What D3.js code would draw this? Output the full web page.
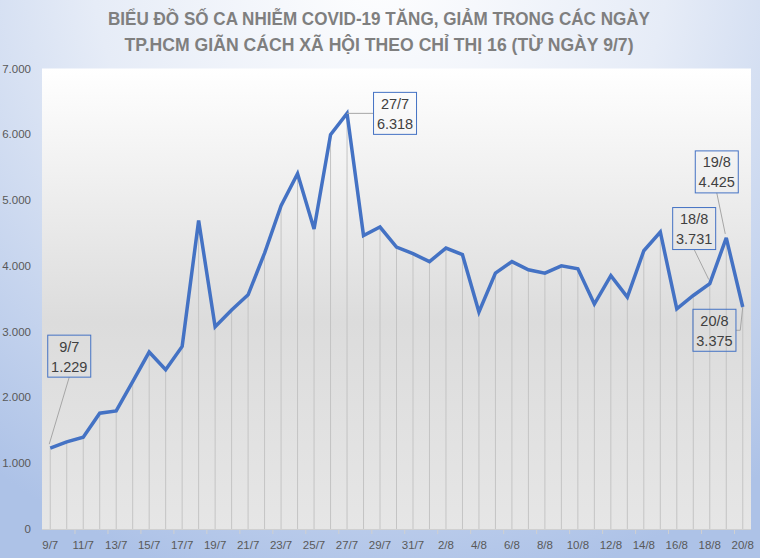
<!DOCTYPE html>
<html><head><meta charset="utf-8">
<script src="https://cdn.jsdelivr.net/npm/d3@7"></script>
<style>html,body{margin:0;padding:0;background:#fff}svg{display:block}</style>
</head><body>
<svg id="c" width="760" height="558"></svg>
<script>
const dates = ["9/7","10/7","11/7","12/7","13/7","14/7","15/7","16/7","17/7","18/7","19/7","20/7","21/7","22/7","23/7","24/7","25/7","26/7","27/7","28/7","29/7","30/7","31/7","1/8","2/8","3/8","4/8","5/8","6/8","7/8","8/8","9/8","10/8","11/8","12/8","13/8","14/8","15/8","16/8","17/8","18/8","19/8","20/8"];
const cases = [1229,1325,1395,1760,1795,2240,2690,2420,2775,4690,3075,3330,3560,4195,4915,5400,4560,5995,6318,4460,4590,4285,4185,4065,4270,4170,3300,3890,4065,3940,3890,4000,3955,3420,3850,3525,4230,4515,3345,3550,3731,4425,3375];
const yTicks = [0,1000,2000,3000,4000,5000,6000,7000];
const xTickLabels = dates.filter((d,i)=>i%2===0);
const titleLines = ["BIỂU ĐỒ SỐ CA NHIỄM COVID-19 TĂNG, GIẢM TRONG CÁC NGÀY","TP.HCM GIÃN CÁCH XÃ HỘI THEO CHỈ THỊ 16 (TỪ NGÀY 9/7)"];
const annotated = ["9/7","27/7","18/8","19/8","20/8"];

const fmt = v => d3.format(",")(v).replace(/,/g,".");
const svg = d3.select("#c");
const W=760,H=558, L=42, R=751, T=68.5, B=529;

const defs = svg.append("defs");
const rg = defs.append("radialGradient").attr("id","bg").attr("gradientUnits","userSpaceOnUse")
  .attr("cx",380).attr("cy",-40).attr("r",640);
rg.append("stop").attr("offset","0%").attr("stop-color","#ffffff");
rg.append("stop").attr("offset","45%").attr("stop-color","#e6ecf7");
rg.append("stop").attr("offset","100%").attr("stop-color","#adc2e7");
const lg = defs.append("linearGradient").attr("id","pa").attr("x1",0).attr("y1",0).attr("x2",0).attr("y2",1);
lg.append("stop").attr("offset","0%").attr("stop-color","#ffffff");
lg.append("stop").attr("offset","55%").attr("stop-color","#dcdcdc");
lg.append("stop").attr("offset","100%").attr("stop-color","#e6e6e6");

svg.append("rect").attr("width",W).attr("height",H).attr("fill","url(#bg)");
svg.append("rect").attr("x",L).attr("y",T).attr("width",R-L).attr("height",B-T).attr("fill","url(#pa)");

const x = d3.scalePoint().domain(dates).range([L,R]).padding(0.5);
const y = d3.scaleLinear().domain([0,7000]).range([B,T]);

// title
const tPos = [{y:25.3,len:542,fs:18},{y:50.5,len:509,fs:17.5}];
svg.selectAll(".title").data(titleLines).join("text")
  .attr("x",379).attr("y",(d,i)=>tPos[i].y).attr("text-anchor","middle")
  .attr("textLength",(d,i)=>tPos[i].len).attr("lengthAdjust","spacingAndGlyphs")
  .attr("font-family","'Liberation Sans Narrow','Liberation Sans',sans-serif").attr("font-weight","bold")
  .attr("font-size",(d,i)=>tPos[i].fs).attr("fill","#7f7f7f").text(d=>d);

// y axis labels
svg.selectAll(".yl").data(yTicks).join("text")
  .attr("x",31).attr("y",d=>y(d)+4).attr("text-anchor","end")
  .attr("font-family","'Liberation Sans',sans-serif").attr("font-size",11.5).attr("fill","#595959")
  .text(d=>fmt(d));

// drop lines
svg.selectAll(".drop").data(dates).join("line")
  .attr("x1",d=>x(d)).attr("x2",d=>x(d)).attr("y1",(d,i)=>y(cases[i])).attr("y2",B)
  .attr("stroke","#c4c4c4").attr("stroke-width",1);

// bottom axis
svg.append("line").attr("x1",L).attr("x2",R).attr("y1",B+0.5).attr("y2",B+0.5).attr("stroke","#d0d0d0");
const st = x.step();
svg.selectAll(".tk").data(d3.range(1,dates.length,2)).join("line")
  .attr("x1",i=>x(dates[i])+st/2).attr("x2",i=>x(dates[i])+st/2).attr("y1",B).attr("y2",B+5)
  .attr("stroke","#d0d0d0");
svg.selectAll(".xl").data(xTickLabels).join("text")
  .attr("x",d=>x(d)).attr("y",549).attr("text-anchor","middle")
  .attr("font-family","'Liberation Sans',sans-serif").attr("font-size",11.5).attr("fill","#595959")
  .text(d=>d);

// line
const line = d3.line().x((d,i)=>x(dates[i])).y(d=>y(d));
svg.append("path").datum(cases).attr("d",line).attr("fill","none")
  .attr("stroke","#4472c4").attr("stroke-width",3.5).attr("stroke-linejoin","miter").attr("stroke-miterlimit",3);

// annotations
const boxOff = {"9/7":[19,-92],"27/7":[48,0],"18/8":[-15.6,-55],"19/8":[-9.5,-66],"20/8":[-28.3,23.3]};
const bw=43,bh=42;
annotated.forEach(d=>{
  const i = dates.indexOf(d);
  const px = x(d), py = y(cases[i]);
  const [dx,dy] = boxOff[d];
  const cx = px+dx, cy = py+dy;
  let pts;
  if (d==="27/7") pts=[[cx-bw/2,cy],[px,py]];
  else if (d==="20/8") pts=[[cx+bw/2,cy],[px-2.5,cy],[px,py]];
  else pts=[[cx,cy+bh/2],[px-1,py-4]];
  svg.append("path").attr("d",d3.line()(pts)).attr("fill","none").attr("stroke","#a6a6a6").attr("stroke-width",1);
  svg.append("rect").attr("x",cx-bw/2).attr("y",cy-bh/2).attr("width",bw).attr("height",bh)
    .attr("fill","none").attr("stroke","#4472c4").attr("stroke-width",1);
  [d, fmt(cases[i])].forEach((t,k)=>{
    svg.append("text").attr("x",cx).attr("y",cy-10+k*20+5.5).attr("text-anchor","middle")
      .attr("font-family","'Liberation Sans',sans-serif").attr("font-size",14.5).attr("fill","#404040").text(t);
  });
});
</script>
</body></html>
